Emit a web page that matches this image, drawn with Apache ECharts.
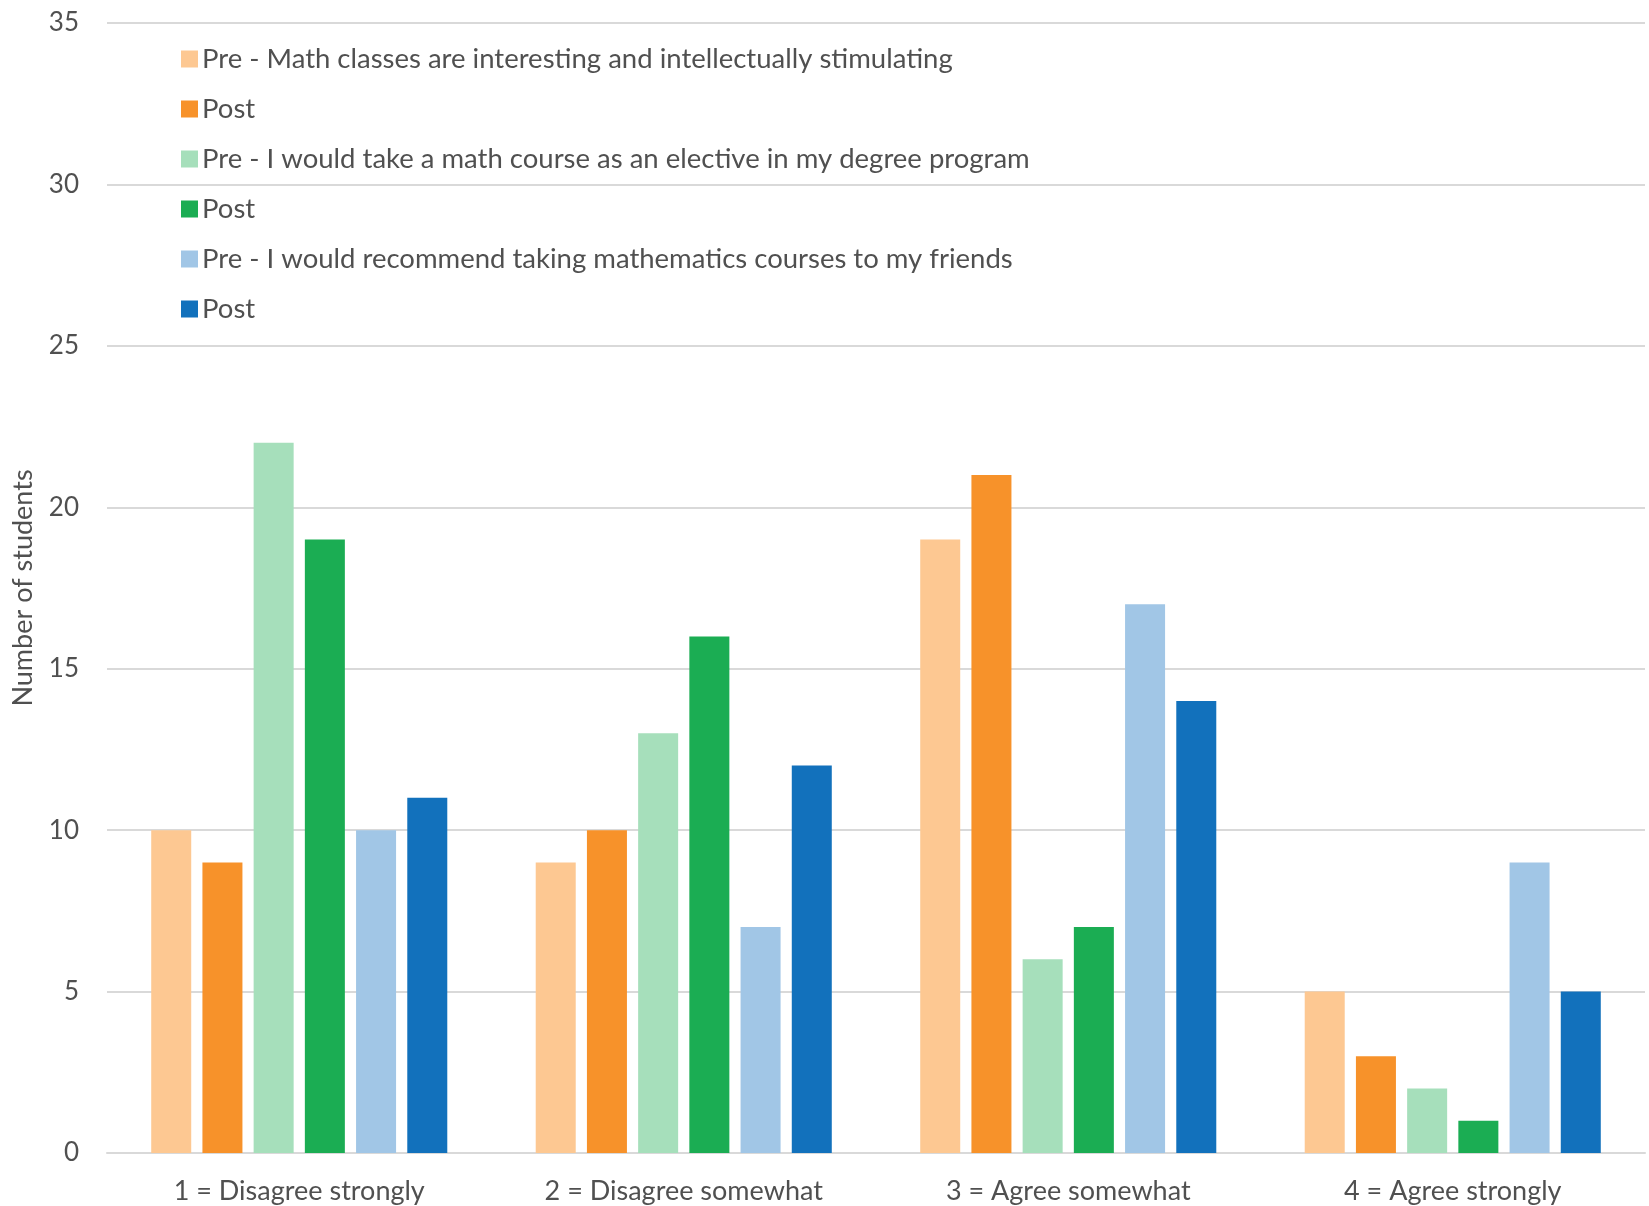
<!DOCTYPE html>
<html>
<head>
<meta charset="utf-8">
<script src="https://cdn.jsdelivr.net/npm/echarts@6/dist/echarts.min.js"></script>
<style>
  html, body { margin: 0; padding: 0; background: #fff; }
  #chart { width: 1649px; height: 1206px; }
</style>
</head>
<body>
<div id="chart"></div>
<script>
// Survey response categories
const categories = ['1 = Disagree strongly', '2 = Disagree somewhat', '3 = Agree somewhat', '4 = Agree strongly'];

// Series names (legend)
const seriesNames = [
  'Pre - Math classes are interesting and intellectually stimulating',
  'Post ',
  'Pre - I would take a math course as an elective in my degree program',
  'Post  ',
  'Pre - I would recommend taking mathematics courses to my friends',
  'Post   '
];

// Number of students per category, one array per series
const interestingPre  = [10, 9, 19, 5];
const interestingPost = [9, 10, 21, 3];
const electivePre     = [22, 13, 6, 2];
const electivePost    = [19, 16, 7, 1];
const recommendPre    = [10, 7, 17, 9];
const recommendPost   = [11, 12, 14, 5];

const seriesValues = [interestingPre, interestingPost, electivePre, electivePost, recommendPre, recommendPost];
const colors = ['#FDC892', '#F7922A', '#A6DFBB', '#1BAD53', '#A1C6E6', '#1271BC'];

// Y axis ticks
const yTicks = [0, 5, 10, 15, 20, 25, 30, 35];

const chart = echarts.init(document.getElementById('chart'));
const font = 'Lato, "Open Sans", sans-serif';
const textColor = '#505050';

chart.setOption({
  animation: false,
  color: colors,
  textStyle: { fontFamily: font },
  grid: { left: 107, right: 4, top: 23, bottom: 53, containLabel: false, outerBoundsMode: 'none' },
  legend: {
    orient: 'vertical',
    left: 176,
    top: 38,
    itemWidth: 17,
    itemHeight: 17,
    itemGap: 18,
    icon: 'rect',
    data: seriesNames,
    formatter: name => name.trim(),
    textStyle: { fontFamily: font, fontSize: 27.5, color: textColor, lineHeight: 32, padding: [0, 0, 0, -1] }
  },
  xAxis: {
    type: 'category',
    data: categories,
    axisLine: { lineStyle: { color: '#d9d9d9', width: 2 } },
    axisTick: { show: false },
    axisLabel: { fontFamily: font, fontSize: 27, color: textColor, margin: 25 }
  },
  yAxis: {
    type: 'value',
    min: yTicks[0],
    max: yTicks[yTicks.length - 1],
    interval: 5,
    name: 'Number of students',
    nameLocation: 'middle',
    nameGap: 70,
    nameRotate: 90,
    nameTextStyle: { fontFamily: font, fontSize: 27, color: textColor },
    axisLine: { show: false },
    axisTick: { show: false },
    splitLine: { lineStyle: { color: '#d9d9d9', width: 2 } },
    axisLabel: { fontFamily: font, fontSize: 26, color: textColor, margin: 28 }
  },
  series: seriesNames.map((name, i) => ({
    name: name,
    type: 'bar',
    data: seriesValues[i],
    barGap: '28%',
    barCategoryGap: '23%',
    itemStyle: { color: colors[i] }
  }))
});
</script>
</body>
</html>
